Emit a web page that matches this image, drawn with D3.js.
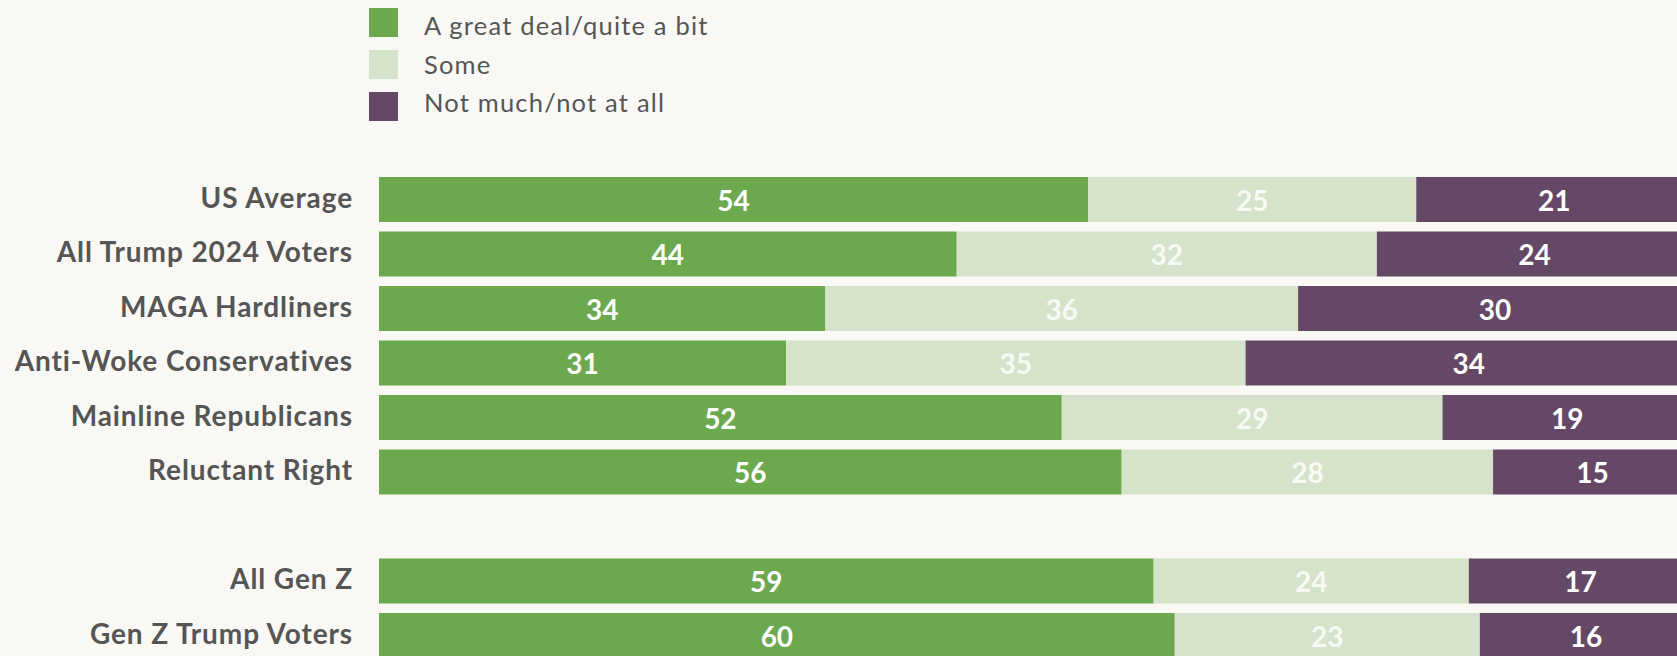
<!DOCTYPE html>
<html>
<head>
<meta charset="utf-8">
<script src="https://cdn.jsdelivr.net/npm/d3@7/dist/d3.min.js"></script>
<style>
  html, body { margin: 0; padding: 0; background: #f9f8f4; }
  svg { display: block; }
</style>
</head>
<body>
<svg id="chart" width="1677" height="656"></svg>
<script>
// ---- Data ----
const categories = [
  "US Average",
  "All Trump 2024 Voters",
  "MAGA Hardliners",
  "Anti-Woke Conservatives",
  "Mainline Republicans",
  "Reluctant Right",
  "All Gen Z",
  "Gen Z Trump Voters"
];
const greatDeal = [54, 44, 34, 31, 52, 56, 59, 60];
const some      = [25, 32, 36, 35, 29, 28, 24, 23];
const notMuch   = [21, 24, 30, 34, 19, 15, 17, 16];
const seriesNames = ["A great deal/quite a bit", "Some", "Not much/not at all"];
const seriesColors = ["#6ba84e", "#d6e3cb", "#644866"];
const gapAfter = "Reluctant Right"; // blank row between groups

// ---- Layout ----
const W = 1677, H = 656;
const svg = d3.select("#chart");
svg.append("rect").attr("width", W).attr("height", H).attr("fill", "#f9f8f4");

const rowKeys = [];
categories.forEach(c => { rowKeys.push(c); if (c === gapAfter) rowKeys.push("__gap__"); });

const step = 54.5, pad = 9.5 / 54.5;
const yTop = 177 - step * pad / 2;
const y = d3.scaleBand()
  .domain(rowKeys)
  .range([yTop, yTop + step * rowKeys.length])
  .paddingInner(pad)
  .paddingOuter(pad / 2);

const x = d3.scaleLinear().domain([0, 100]).range([379, 1692]);

const rows = categories.map((c, i) => {
  const vals = [greatDeal[i], some[i], notMuch[i]];
  const total = d3.sum(vals);
  let cum = 0;
  const segs = vals.map((v, k) => {
    const s = { cat: c, k, v, x0: cum / total * 100, x1: (cum + v) / total * 100 };
    cum += v;
    return s;
  });
  return { cat: c, segs };
});

const g = svg.append("g");
const rowG = g.selectAll("g.row").data(rows).join("g").attr("class", "row")
  .attr("transform", d => `translate(0,${y(d.cat)})`);

rowG.selectAll("rect").data(d => d.segs).join("rect")
  .attr("x", d => x(d.x0))
  .attr("width", d => x(d.x1) - x(d.x0))
  .attr("y", 0)
  .attr("height", y.bandwidth())
  .attr("fill", d => seriesColors[d.k]);

rowG.selectAll("text.val").data(d => d.segs).join("text")
  .attr("class", "val")
  .attr("x", d => (x(d.x0) + x(d.x1)) / 2)
  .attr("y", y.bandwidth() / 2 + 11)
  .attr("text-anchor", "middle")
  .attr("font-family", "Lato, sans-serif")
  .attr("font-weight", 700)
  .attr("font-size", 28)
  .attr("fill", d => d.k === 1 ? "#f8faf4" : "#ffffff")
  .text(d => d.v);

// Category labels
g.selectAll("text.cat").data(categories).join("text")
  .attr("class", "cat")
  .attr("x", 353)
  .attr("y", d => y(d) + y.bandwidth() / 2 + 8)
  .attr("text-anchor", "end")
  .attr("font-family", "Lato, sans-serif")
  .attr("font-weight", 700)
  .attr("font-size", 28)
  .attr("letter-spacing", "0.9px")
  .attr("fill", "#555555")
  .text(d => d);

// Legend
const leg = svg.append("g").attr("transform", "translate(369,8)");
const li = leg.selectAll("g").data(seriesNames).join("g");
li.append("rect").attr("y", (d, i) => i * 42).attr("width", 29).attr("height", 29)
  .attr("fill", (d, i) => seriesColors[i]);
li.append("text").attr("x", 55).attr("y", (d, i) => 27 + i * 38.5)
  .attr("font-family", "Lato, sans-serif")
  .attr("font-size", 25.5)
  .attr("letter-spacing", "1.2px")
  .attr("fill", "#555555")
  .text(d => d);
</script>
</body>
</html>
